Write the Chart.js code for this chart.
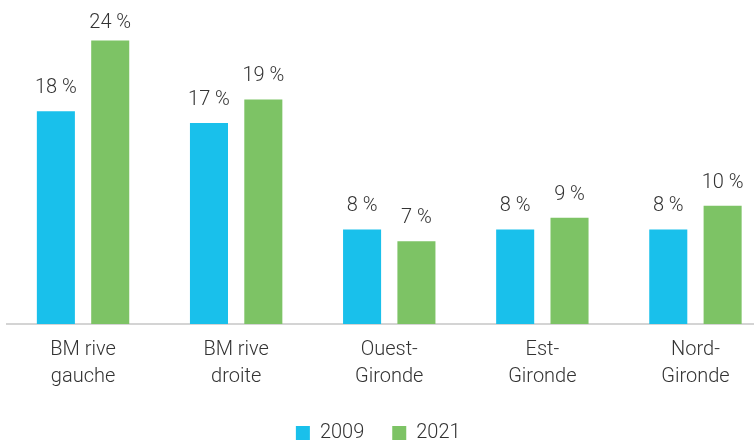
<!DOCTYPE html>
<html>
<head>
<meta charset="utf-8">
<script src="https://cdn.jsdelivr.net/npm/chart.js@4/dist/chart.umd.min.js"></script>
<style>
  html, body { margin: 0; padding: 0; background: #fff; overflow: hidden; }
  #wrap { width: 772px; height: 441px; position: relative; }
</style>
</head>
<body>
<div id="wrap"><canvas id="c" width="772" height="441"></canvas></div>
<script>
const categories = [["BM rive", "gauche"], ["BM rive", "droite"], ["Ouest-", "Gironde"], ["Est-", "Gironde"], ["Nord-", "Gironde"]];
const seriesNames = ["2009", "2021"];
const values2009 = [18, 17, 8, 8, 8];
const values2021 = [24, 19, 7, 9, 10];

const FONT = "Roboto, 'Liberation Sans', sans-serif";
const TEXT = "#333333";

const dataLabels = {
  id: 'dataLabels',
  afterDatasetsDraw(chart) {
    const ctx = chart.ctx;
    ctx.save();
    ctx.font = "300 20px " + FONT;
    ctx.fillStyle = TEXT;
    ctx.textAlign = 'center';
    ctx.textBaseline = 'alphabetic';
    chart.data.datasets.forEach((ds, i) => {
      const meta = chart.getDatasetMeta(i);
      meta.data.forEach((el, j) => {
        const y = Math.max(el.y - 18, chart.chartArea.top + 28);
        ctx.fillText(ds.data[j] + ' %', el.x, y);
      });
    });
    ctx.restore();
  }
};

const shiftLegend = {
  id: 'shiftLegend',
  afterLayout(chart) {
    if (chart.legend) {
      chart.legend.left -= 11;
      chart.legend.right -= 11;
    }
  }
};

new Chart(document.getElementById('c'), {
  type: 'bar',
  data: {
    labels: categories,
    datasets: [
      { label: seriesNames[0], data: values2009, backgroundColor: '#19C0EB', borderWidth: 0 },
      { label: seriesNames[1], data: values2021, backgroundColor: '#7DC365', borderWidth: 0 }
    ]
  },
  options: {
    responsive: false,
    animation: false,
    events: [],
    layout: { padding: { left: 6.5, right: 0, top: 0, bottom: -12 } },
    datasets: { bar: { categoryPercentage: 0.71, barPercentage: 0.70 } },
    scales: {
      x: {
        afterFit(scale) { scale.height += 1; },
        grid: { display: false },
        border: { display: true, color: '#d4d4d4', width: 2 },
        ticks: { color: TEXT, font: { family: FONT, size: 20, weight: '300', lineHeight: 1.35 }, padding: 4, maxRotation: 0, autoSkip: false }
      },
      y: {
        display: false,
        min: 0,
        max: 27.42
      }
    },
    plugins: {
      tooltip: { enabled: false },
      legend: {
        position: 'bottom',
        labels: {
          boxWidth: 14,
          boxHeight: 14,
          color: TEXT,
          padding: 28,
          font: { family: FONT, size: 20, weight: '300' }
        }
      }
    }
  },
  plugins: [dataLabels, shiftLegend]
});
</script>
</body>
</html>
